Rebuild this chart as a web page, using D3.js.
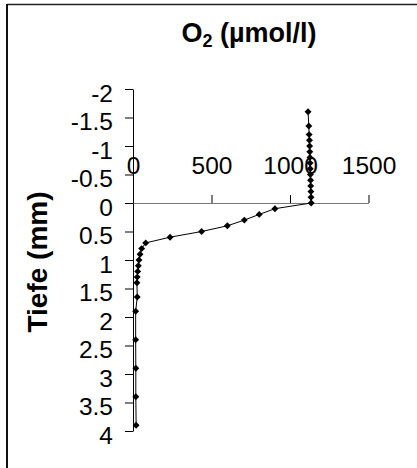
<!DOCTYPE html>
<html><head><meta charset="utf-8">
<script src="https://cdn.jsdelivr.net/npm/d3@7"></script>
<style>html,body{margin:0;padding:0;background:#fff;}svg{display:block;}</style>
</head><body>
<svg id="c" width="417" height="468"></svg>
<script>
const depth = [-1.6,-1.35,-1.2,-1.1,-1.0,-0.9,-0.8,-0.7,-0.6,-0.5,-0.4,-0.3,-0.2,-0.1,0,
  0.1,0.2,0.3,0.4,0.5,0.6,0.7,0.8,0.9,1.0,1.1,1.2,1.3,1.4,1.65,1.9,2.4,2.9,3.4,3.9];
const o2 = [1115,1120,1122,1124,1125,1126,1127,1128,1129,1130,1131,1132,1133,1134,1135,
  904,804,709,601,437,236,81,55,45,38,34,30,27,25,27,17,17,18,18,20];
const xTicks = [0,500,1000,1500];
const yTicks = [-2,-1.5,-1,-0.5,0,0.5,1,1.5,2,2.5,3,3.5,4];
const titleMain = "O", titleSub = "2", titleRest = " (µmol/l)";
const yTitle = "Tiefe (mm)";

const svg = d3.select("#c");
const font = "Liberation Sans, Arial, sans-serif";

// frame
svg.append("line").attr("x1",7).attr("x2",417).attr("y1",4.5).attr("y2",4.5).attr("stroke","#222").attr("stroke-width",1.5);
svg.append("line").attr("x1",7).attr("x2",7).attr("y1",4).attr("y2",468).attr("stroke","#111").attr("stroke-width",2);

const x = d3.scaleLinear().domain([0,1500]).range([133,368.5]);
const y = d3.scaleLinear().domain([-2,4]).range([89,431]);

// y axis
const ya = svg.append("g").attr("transform",`translate(${x(0)},0)`)
  .call(d3.axisLeft(y).tickValues(yTicks).tickFormat(d=>String(d)).tickSize(8).tickSizeOuter(0).tickPadding(12));
ya.select(".domain").attr("stroke","#000");
ya.selectAll(".tick line").attr("stroke","#000");
ya.selectAll("text").attr("font-family",font).attr("font-size",24.5).attr("fill","#000").attr("dy","0.5em");

// x axis
const xa = svg.append("g").attr("transform",`translate(0,${y(0)})`)
  .call(d3.axisTop(x).tickValues(xTicks).tickFormat(d=>String(d)).tickSize(8).tickSizeOuter(0).tickPadding(21));
xa.select(".domain").attr("stroke","#777");
xa.selectAll(".tick line").attr("stroke","#000");
xa.selectAll("text").attr("font-family",font).attr("font-size",24.5).attr("fill","#000");

// data
const pts = depth.map((d,i)=>({d, v:o2[i]}));
svg.append("path").datum(pts)
  .attr("d", d3.line().x(p=>x(p.v)).y(p=>y(p.d)))
  .attr("fill","none").attr("stroke","#000").attr("stroke-width",1);
svg.append("g").selectAll("path").data(pts).join("path")
  .attr("d", d3.symbol().type(d3.symbolSquare).size(24))
  .attr("transform", p=>`translate(${x(p.v)},${y(p.d)}) rotate(45)`)
  .attr("fill","#000");

// title
const t = svg.append("text").attr("x",249).attr("y",42).attr("text-anchor","middle")
  .attr("font-family",font).attr("font-size",27).attr("font-weight","bold");
t.append("tspan").text(titleMain);
t.append("tspan").attr("font-size",18).attr("dy",5).text(titleSub);
t.append("tspan").attr("dy",-5).text(titleRest);

// y title
svg.append("text").attr("transform","translate(47,262) rotate(-90)").attr("text-anchor","middle")
  .attr("font-family",font).attr("font-size",28).attr("font-weight","bold").text(yTitle);
</script>
</body></html>
